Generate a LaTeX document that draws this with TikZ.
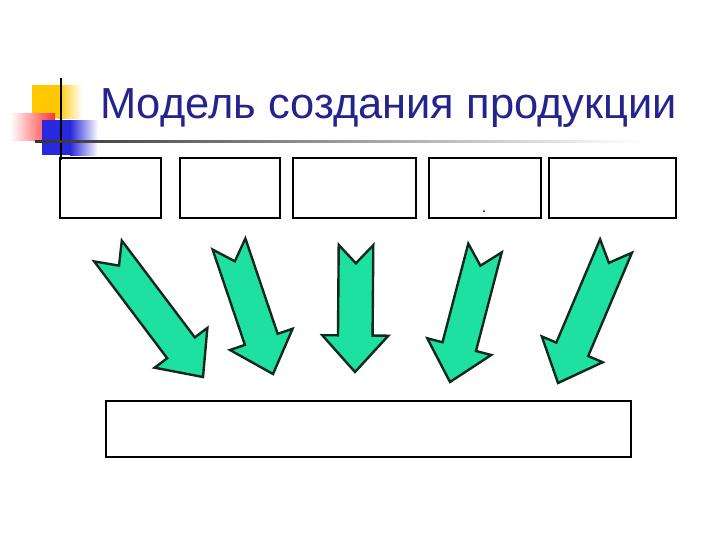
\documentclass[tikz,border=0pt]{standalone}
\usepackage{fontspec}
\newfontfamily\titlefont{Liberation Sans}
\usetikzlibrary{positioning, calc}
\definecolor{slnavy}{RGB}{36,36,140}
\definecolor{slgreen}{RGB}{30,224,160}
\definecolor{sledge}{RGB}{18,40,28}
\definecolor{slyellow}{RGB}{255,200,0}
\definecolor{slred}{RGB}{255,50,50}
\definecolor{slblue}{RGB}{40,40,220}

% block arrow with notched tail, from tail #1 to tip #2
\newcommand{\blockarrow}[2]{%
  \coordinate (hb) at ($(#2)!26pt!(#1)$);
  \draw[barrow] ($(#1)!12.3pt!90:(#2)$) -- ($(hb)!12.3pt!90:(#2)$) -- ($(hb)!23.5pt!90:(#2)$)
    -- (#2) -- ($(hb)!23.5pt!-90:(#2)$) -- ($(hb)!12.3pt!-90:(#2)$)
    -- ($(#1)!12.3pt!-90:(#2)$) -- ($(#1)!13pt!(#2)$) -- cycle;}

\begin{document}
\begin{tikzpicture}[x=0.025cm, y=-0.025cm,
  cell/.style={draw, line width=1.4pt, inner sep=0pt, minimum height=1.51cm},
  barrow/.style={fill=slgreen, draw=sledge, line width=1.7pt, line join=miter},
  title/.style={font=\titlefont\fontsize{30.9}{36}\selectfont, text=slnavy, inner sep=0pt}
]
\useasboundingbox (0,0) rectangle (720,540);
% logo squares
\fill[slyellow] (32,85) rectangle (58,118);
\shade[left color=slyellow, right color=white] (58,85) rectangle (82,118);
\shade[left color=white, right color=slred] (10,113) rectangle (55,140);
\fill[slblue] (42,120) rectangle (70,155);
\shade[left color=slblue, right color=white] (70,120) rectangle (98,155);
\draw[line width=1.5pt] (61,78) -- (61,160);
\shade[left color=black!80, right color=white] (35,140) rectangle (640,142.5);
% title
\node[title, anchor=base west] (title) at (100,118) {Модель создания продукции};
% boxes
\node[cell, minimum width=2.52cm] (b1) at (110.6,187.8) {};
\node[cell, minimum width=2.51cm, right=0.42cm of b1] (b2) {};
\node[cell, minimum width=3.08cm, right=0.27cm of b2] (b3) {};
\node[cell, minimum width=2.79cm, right=0.27cm of b3] (b4) {};
\node[cell, minimum width=3.17cm, right=0.17cm of b4] (b5) {};
\node[font=\titlefont\fontsize{11}{13}\selectfont, anchor=base, inner sep=0pt] (dot) at (484,212.5) {.};
\node[cell, minimum width=13.13cm, minimum height=1.39cm] (res) at (368.5,428.7) {};
% arrows
\coordinate (t1) at (108,251); \coordinate (h1) at (203,377);
\coordinate (t2) at (229,244); \coordinate (h2) at (273,374);
\coordinate (t3) at (356,245); \coordinate (h3) at (355,372);
\coordinate (t4) at (485,248); \coordinate (h4) at (450,382);
\coordinate (t5) at (616,246); \coordinate (h5) at (558,383);
\foreach \i in {1,...,5}{\blockarrow{t\i}{h\i}}
\end{tikzpicture}
\end{document}
